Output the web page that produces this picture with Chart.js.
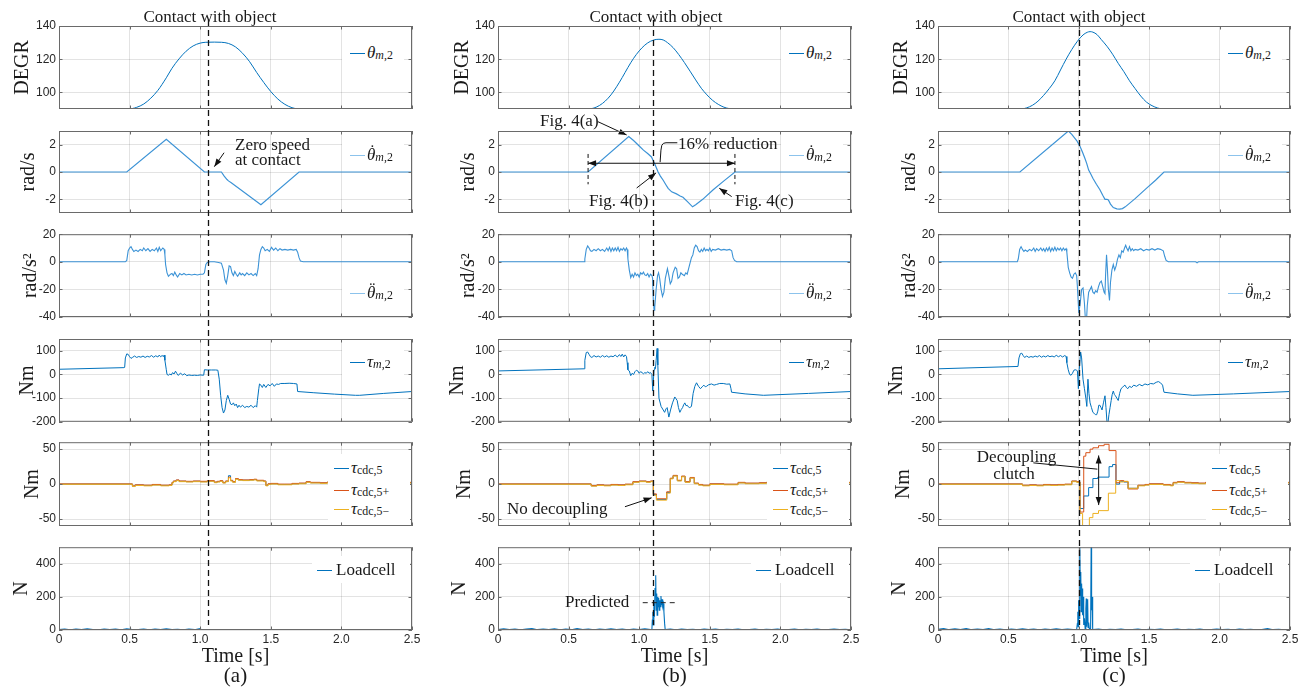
<!DOCTYPE html>
<html>
<head>
<meta charset="utf-8">
<title>Contact experiments</title>
<script src="https://cdn.jsdelivr.net/npm/chart.js@4.4.1/dist/chart.umd.min.js"></script>
<style>
html,body{margin:0;padding:0;background:#fff;}
#fig{position:relative;width:1304px;height:694px;overflow:hidden;background:#fff;}
#fig canvas{position:absolute;}
.t{position:absolute;white-space:nowrap;color:#1a1a1a;font-family:'Liberation Serif','Times New Roman',serif;font-size:17px;line-height:1;}
.t sub{font-size:0.7em;vertical-align:-0.15em;line-height:0;}
.acc{position:relative;display:inline-block;}
.dt{position:absolute;left:0.15em;top:-0.2em;font-style:normal;}
.lgbox{position:absolute;background:#fff;}
.lgline{position:absolute;height:0;border-top:1px solid;}
</style>
</head>
<body>
<div id="fig"></div>
<script>
// ---------------- data ----------------
const timeTicks = [0, 0.5, 1, 1.5, 2, 2.5];
const yTicksTheta = [100, 120, 140];
const yTicksVel = [-2, 0, 2];
const yTicksAcc = [-40, -20, 0, 20];
const yTicksTau = [-200, -100, 0, 100];
const yTicksCdc = [-50, 0, 50];
const yTicksLoad = [0, 200, 400];
const yRanges = [[90, 140], [-3, 3], [-40, 20], [-200, 150], [-60, 60], [0, 500]];
const yTitles = ['DEGR', 'rad/s', 'rad/s²', 'Nm', 'Nm', 'N'];
const contactTimes = [1.057, 1.1, 1.0];
const panelNames = ['(a)', '(b)', '(c)'];

// column (a)
const thetaA = [[0,90],[0.48,90],[0.52,90.3],[0.55,91],[0.6,93],[0.65,96.5],[0.7,101.2],[0.76,108.8],[0.8,114.5],[0.85,120.2],[0.9,124.8],[0.95,128],[1.0,129.7],[1.04,130.2],[1.1,130.3],[1.15,130.2],[1.2,129.5],[1.25,127.4],[1.3,123.6],[1.35,118.5],[1.4,112],[1.45,106],[1.5,100.5],[1.55,96],[1.6,92.8],[1.65,90.8],[1.7,90],[2.5,90]];
const dthetaA = [[0,0],[0.48,0],[0.76,2.4],[1.03,0],[1.15,0],[1.17,-0.3],[1.19,-0.55],[1.2,-0.65],[1.22,-0.78],[1.43,-2.4],[1.70,0],[2.5,0]];
const ddthetaA = [[0,0],[0.47,0],[0.48,1],[0.49,8],[0.5,10],[0.51,11],[0.52,9],[0.53,7.5],[0.545,8.5],[0.56,7.5],[0.575,9],[0.59,8],[0.6,10],[0.615,8],[0.63,9.5],[0.645,7.5],[0.66,9],[0.675,8],[0.69,10],[0.7,7.5],[0.71,10.5],[0.72,8],[0.735,10],[0.745,9],[0.75,5],[0.755,-2],[0.765,-8],[0.775,-10.5],[0.79,-9],[0.8,-8.5],[0.81,-10],[0.82,-7.5],[0.83,-9.5],[0.84,-11],[0.855,-8.5],[0.87,-9.5],[0.885,-8.5],[0.9,-9.5],[0.92,-9],[0.94,-9.5],[0.96,-9],[0.98,-9.5],[1.0,-9],[1.02,-9],[1.03,-8],[1.04,-2],[1.05,-0.5],[1.07,0],[1.1,0],[1.13,-0.5],[1.15,-1],[1.165,-6],[1.175,-13],[1.185,-15.5],[1.195,-10],[1.205,-3],[1.215,-3.5],[1.225,-8],[1.235,-10],[1.245,-7],[1.255,-9],[1.265,-10.5],[1.28,-8],[1.29,-9.5],[1.3,-8.5],[1.315,-10],[1.33,-8],[1.345,-9.5],[1.36,-8.5],[1.375,-10],[1.39,-8.5],[1.4,-10],[1.41,-5],[1.42,5],[1.43,9],[1.44,11],[1.45,10],[1.46,8],[1.475,9],[1.49,7.5],[1.505,10.5],[1.52,8.5],[1.535,10],[1.55,8],[1.565,9.5],[1.58,8.5],[1.6,9],[1.62,8.5],[1.64,9],[1.66,8.5],[1.68,9],[1.69,7],[1.7,3],[1.71,0.5],[1.73,0],[2.5,0]];
const tauA = [[0,22],[0.46,29],[0.465,30],[0.47,70],[0.48,87],[0.49,85],[0.5,75],[0.51,68],[0.52,72],[0.535,78],[0.55,72],[0.565,76],[0.58,73],[0.595,78],[0.61,72],[0.625,77],[0.64,74],[0.655,80],[0.67,73],[0.685,79],[0.7,74],[0.71,82],[0.72,75],[0.73,80],[0.74,76],[0.745,82],[0.75,60],[0.76,20],[0.765,0],[0.775,-3],[0.785,2],[0.795,-2],[0.805,8],[0.815,2],[0.825,14],[0.835,4],[0.845,-4],[0.86,6],[0.875,-2],[0.89,3],[0.905,-5],[0.92,-2],[0.94,-4],[0.96,-3],[0.98,-4],[1.0,-2],[1.02,-3],[1.025,-2],[1.03,20],[1.05,19],[1.08,19],[1.11,19],[1.125,18],[1.135,-20],[1.145,-90],[1.155,-140],[1.165,-163],[1.175,-150],[1.185,-110],[1.195,-88],[1.205,-105],[1.215,-125],[1.225,-128],[1.235,-120],[1.245,-132],[1.255,-125],[1.265,-140],[1.275,-130],[1.285,-138],[1.3,-130],[1.315,-140],[1.33,-135],[1.345,-138],[1.36,-130],[1.375,-140],[1.39,-132],[1.4,-138],[1.405,-110],[1.415,-60],[1.42,-40],[1.43,-45],[1.44,-55],[1.45,-42],[1.465,-55],[1.48,-42],[1.495,-48],[1.51,-38],[1.525,-50],[1.54,-40],[1.555,-42],[1.57,-38],[1.6,-38],[1.63,-37],[1.66,-38],[1.685,-40],[1.69,-72],[1.8,-77],[1.95,-83],[2.1,-88],[2.13,-88],[2.3,-80],[2.5,-72]];
const tcdcA = [[0,0],[0.52,-3],[0.54,-1.5],[0.6,-2],[0.66,-1],[0.72,-2],[0.78,-1.5],[0.8,2],[0.81,4],[0.83,5.5],[0.85,4],[0.9,3.5],[0.95,4],[1.0,3.5],[1.05,4.5],[1.1,2.5],[1.12,3.5],[1.14,4.5],[1.16,2],[1.18,4],[1.2,12],[1.215,5],[1.23,3],[1.25,7.5],[1.27,6],[1.3,5.5],[1.35,6],[1.38,6.5],[1.4,5],[1.45,4],[1.465,-2],[1.48,0],[1.5,0.5],[1.55,-0.5],[1.6,-0.5],[1.65,0.5],[1.7,1],[1.75,3],[1.78,2],[1.85,1.5],[1.9,2.5],[2.0,2],[2.5,2]];
const tcdcAp = [[0,0.3],[0.52,-2.5],[0.54,-1],[0.6,-1.5],[0.66,-0.5],[0.72,-1.5],[0.78,-1],[0.8,2.5],[0.81,4.5],[0.83,6],[0.85,4.5],[0.9,4],[0.95,4.5],[1.0,4],[1.05,5],[1.1,3],[1.12,4],[1.14,5],[1.16,2.5],[1.18,4.5],[1.2,10],[1.215,5.5],[1.23,3.5],[1.25,8],[1.27,6.5],[1.3,6],[1.35,6.5],[1.38,7],[1.4,5.5],[1.45,4.5],[1.465,-1.5],[1.48,0.5],[1.5,1],[1.55,0],[1.6,0],[1.65,1],[1.7,1.5],[1.75,3.5],[1.78,2.5],[1.85,2],[1.9,3],[2.0,2.5],[2.5,2.5]];
const tcdcAm = [[0,-0.3],[0.52,-3.5],[0.54,-2],[0.6,-2.5],[0.66,-1.5],[0.72,-2.5],[0.78,-2],[0.8,1.5],[0.81,3.5],[0.83,5],[0.85,3.5],[0.9,3],[0.95,3.5],[1.0,3],[1.05,4],[1.1,2],[1.12,3],[1.14,4],[1.16,1.5],[1.18,3.5],[1.2,9],[1.215,4.5],[1.23,2.5],[1.25,7],[1.27,5.5],[1.3,5],[1.35,5.5],[1.38,6],[1.4,4.5],[1.45,3.5],[1.465,-2.5],[1.48,-0.5],[1.5,0],[1.55,-1],[1.6,-1],[1.65,0],[1.7,0.5],[1.75,2.5],[1.78,1.5],[1.85,1],[1.9,2],[2.0,1.5],[2.5,1.5]];
const loadA = [[0,2],[0.04,6],[0.08,1],[0.12,5],[0.16,2],[0.2,7],[0.24,3],[0.28,1],[0.32,6],[0.36,2],[0.4,5],[0.44,1],[0.48,7],[0.52,3],[0.56,2],[0.6,6],[0.64,1],[0.68,5],[0.72,3],[0.76,7],[0.8,2],[0.84,4],[0.88,1],[0.92,6],[0.96,2],[1.0,8],[1.01,1]];

// column (b)
const thetaB = [[0,90],[0.64,90],[0.68,90.6],[0.72,92.2],[0.76,94.8],[0.8,98.5],[0.84,103.4],[0.88,109],[0.92,115],[0.96,120.5],[1.0,125],[1.04,128.5],[1.08,130.8],[1.12,131.9],[1.14,132],[1.17,131.6],[1.2,130],[1.24,127],[1.28,122.8],[1.32,118],[1.36,112.8],[1.4,107.5],[1.44,102.5],[1.48,98.5],[1.52,95.2],[1.56,92.8],[1.6,91.1],[1.64,90.2],[1.67,90],[2.5,90]];
const dthetaB = [[0,0],[0.638,0],[0.926,2.6],[0.96,2.3],[1.0,1.9],[1.03,1.6],[1.06,1.35],[1.087,1.1],[1.1,0.8],[1.11,0.6],[1.12,0.35],[1.134,0],[1.15,-0.3],[1.17,-0.6],[1.19,-0.95],[1.205,-1.2],[1.23,-1.45],[1.264,-1.6],[1.29,-1.75],[1.31,-1.85],[1.34,-2.15],[1.378,-2.55],[1.4,-2.4],[1.45,-2.0],[1.524,-1.3],[1.6,-0.65],[1.678,0],[2.5,0]];
const ddthetaB = [[0,0],[0.61,0],[0.615,2],[0.625,9],[0.635,11.5],[0.645,10],[0.655,8],[0.665,7.5],[0.68,9],[0.695,8],[0.71,9.5],[0.725,8],[0.74,9],[0.755,7.5],[0.77,10],[0.78,8],[0.79,10.5],[0.8,7.5],[0.81,10],[0.82,8],[0.83,10],[0.84,8],[0.85,10.5],[0.86,7.5],[0.87,9.5],[0.88,8.5],[0.89,10],[0.9,8],[0.91,10],[0.915,9],[0.92,2],[0.93,-6],[0.94,-11.5],[0.95,-9],[0.96,-11],[0.97,-8],[0.98,-10],[0.99,-9],[1.0,-11],[1.01,-8],[1.02,-9],[1.03,-7.5],[1.04,-9.5],[1.05,-10],[1.06,-8.5],[1.07,-11],[1.08,-9],[1.09,-10],[1.095,-12],[1.1,-28],[1.105,-35],[1.11,-33],[1.12,-20],[1.13,-10],[1.137,-8],[1.145,-12],[1.155,-20],[1.165,-25],[1.175,-22],[1.185,-12],[1.2,-5],[1.21,-10],[1.22,-16],[1.23,-14],[1.24,-8],[1.255,-4],[1.265,-5],[1.275,-12],[1.285,-11],[1.295,-8],[1.305,-9],[1.32,-10],[1.33,-8],[1.34,-9],[1.35,-5],[1.36,-1],[1.37,3],[1.38,5],[1.39,10],[1.4,12],[1.41,11],[1.42,8],[1.43,7],[1.44,9],[1.45,7.5],[1.46,10],[1.47,8],[1.48,9],[1.49,8],[1.5,10],[1.51,7.5],[1.52,9],[1.54,8.5],[1.56,9.5],[1.58,8.5],[1.6,9],[1.62,8.5],[1.64,9],[1.655,8],[1.665,3],[1.675,1],[1.69,0],[2.5,0]];
const tauB = [[0,15],[0.61,24],[0.615,60],[0.625,93],[0.635,95],[0.645,85],[0.655,75],[0.665,72],[0.68,80],[0.695,74],[0.71,78],[0.725,73],[0.74,80],[0.755,74],[0.77,79],[0.785,73],[0.8,78],[0.815,75],[0.83,82],[0.845,74],[0.86,84],[0.87,76],[0.88,86],[0.89,74],[0.9,83],[0.91,76],[0.915,50],[0.92,20],[0.93,15],[0.94,-5],[0.95,5],[0.96,0],[0.97,12],[0.98,18],[0.99,15],[1.0,5],[1.01,12],[1.02,8],[1.03,3],[1.04,8],[1.05,5],[1.06,12],[1.07,5],[1.08,8],[1.09,0],[1.096,-70],[1.1,-30],[1.105,20],[1.11,30],[1.115,25],[1.12,60],[1.127,110],[1.132,40],[1.14,-100],[1.155,-135],[1.17,-150],[1.18,-160],[1.19,-145],[1.198,-140],[1.21,-180],[1.222,-150],[1.236,-120],[1.252,-95],[1.26,-102],[1.269,-110],[1.278,-140],[1.288,-160],[1.298,-148],[1.307,-140],[1.315,-128],[1.323,-120],[1.332,-132],[1.34,-130],[1.35,-138],[1.358,-140],[1.37,-135],[1.382,-80],[1.394,-50],[1.406,-35],[1.42,-50],[1.434,-60],[1.446,-52],[1.458,-45],[1.468,-52],[1.477,-50],[1.49,-44],[1.512,-40],[1.53,-45],[1.548,-42],[1.57,-38],[1.595,-38],[1.62,-41],[1.642,-40],[1.65,-60],[1.654,-75],[1.75,-82],[1.88,-88],[2.2,-80],[2.5,-72]];
const tcdcB = [[0,0],[0.66,-2.5],[0.7,-1.5],[0.75,-2],[0.8,-1],[0.85,-1.5],[0.9,-0.5],[0.955,3],[1.0,4],[1.05,3],[1.08,4],[1.1,-15],[1.122,-22],[1.195,-12],[1.22,8],[1.24,12],[1.27,5],[1.3,11],[1.325,3],[1.36,9],[1.39,1],[1.42,-1],[1.45,-2],[1.5,0],[1.6,-0.5],[1.7,2],[1.75,1],[1.85,1.5],[1.9,2],[2.5,2]];
const tcdcBp = [[0,0.3],[0.66,-2],[0.7,-1],[0.75,-1.5],[0.8,-0.5],[0.85,-1],[0.9,0],[0.955,3.5],[1.0,4.5],[1.05,3.5],[1.08,4.5],[1.1,-14],[1.122,-21],[1.195,-11],[1.22,8.5],[1.24,12.5],[1.27,5.5],[1.3,11.5],[1.325,3.5],[1.36,9.5],[1.39,1.5],[1.42,-0.5],[1.45,-1.5],[1.5,0.5],[1.6,0],[1.7,2.5],[1.75,1.5],[1.85,2],[1.9,2.5],[2.5,2.5]];
const tcdcBm = [[0,-0.3],[0.66,-3],[0.7,-2],[0.75,-2.5],[0.8,-1.5],[0.85,-2],[0.9,-1],[0.955,2.5],[1.0,3.5],[1.05,2.5],[1.08,3.5],[1.1,-16],[1.122,-23],[1.195,-13],[1.22,7.5],[1.24,11.5],[1.27,4.5],[1.3,10.5],[1.325,2.5],[1.36,8.5],[1.39,0.5],[1.42,-1.5],[1.45,-2.5],[1.5,-0.5],[1.6,-1],[1.7,1.5],[1.75,0.5],[1.85,1],[1.9,1.5],[2.5,1.5]];
const loadBpre = [[0,3],[0.04,7],[0.08,2],[0.12,6],[0.16,1],[0.2,5],[0.24,8],[0.28,2],[0.32,6],[0.36,3],[0.4,7],[0.44,1],[0.48,5],[0.52,2],[0.56,8],[0.6,3],[0.64,6],[0.68,1],[0.72,5],[0.76,2],[0.8,7],[0.84,3],[0.88,6],[0.92,1],[0.96,5],[1.0,2],[1.04,7],[1.08,3],[1.09,4]];
const loadBspike = [[1.093,60],[1.097,110],[1.1,30],[1.104,160],[1.108,80],[1.112,250],[1.117,330],[1.12,120],[1.124,220],[1.127,90],[1.131,200],[1.134,140],[1.138,195],[1.142,120],[1.146,180],[1.15,140],[1.154,205],[1.158,150],[1.162,185],[1.166,145],[1.17,160],[1.175,110],[1.18,40],[1.184,3]];
const loadBpost = [[1.22,5],[1.26,1],[1.3,6],[1.34,2],[1.38,4],[1.42,1],[1.46,6],[1.5,2],[1.54,5],[1.58,1],[1.62,4],[1.66,2],[1.7,6],[1.74,1],[1.78,3],[1.82,5],[1.86,1],[1.9,4],[1.94,2],[1.98,6],[2.02,1],[2.06,3],[2.1,5],[2.14,1],[2.18,4],[2.22,2],[2.26,5],[2.3,1],[2.34,3],[2.38,6],[2.42,2],[2.46,4],[2.5,1]];
const predictedB = [[1.025,165],[1.255,165]];

// column (c)
const thetaC = [[0,90],[0.59,90],[0.63,90.7],[0.67,92.2],[0.71,94.7],[0.75,98.2],[0.79,102.3],[0.83,107],[0.87,113.5],[0.91,120],[0.95,125.8],[0.99,130.8],[1.03,134.6],[1.06,136.2],[1.08,136.6],[1.1,136.3],[1.13,134.8],[1.16,131.8],[1.2,127.8],[1.24,123],[1.28,117.5],[1.32,112.5],[1.36,107],[1.4,102.3],[1.44,97.8],[1.48,94.2],[1.52,92],[1.56,90.6],[1.6,90],[2.5,90]];
const dthetaC = [[0,0],[0.582,0],[0.926,3.0],[0.95,2.75],[0.985,2.3],[1.01,1.85],[1.03,1.35],[1.045,0.95],[1.056,0.63],[1.07,0.14],[1.085,-0.15],[1.1,-0.46],[1.125,-0.9],[1.15,-1.3],[1.17,-1.7],[1.186,-2.0],[1.2,-2.0],[1.21,-2.05],[1.225,-2.35],[1.245,-2.6],[1.27,-2.7],[1.29,-2.72],[1.31,-2.68],[1.33,-2.55],[1.4,-1.95],[1.48,-1.2],[1.545,-0.6],[1.605,0],[2.5,0]];
const ddthetaC = [[0,0],[0.563,0],[0.57,2],[0.58,9],[0.59,11],[0.6,9],[0.61,7.5],[0.62,8.5],[0.635,7.5],[0.65,9],[0.665,8],[0.68,10],[0.69,7.5],[0.7,9.5],[0.715,8],[0.73,10],[0.74,8],[0.75,9.5],[0.76,7.5],[0.77,10],[0.78,8],[0.79,10.5],[0.8,7.5],[0.81,10],[0.82,8],[0.83,10.5],[0.84,8],[0.85,10],[0.86,8.5],[0.87,10],[0.88,8],[0.89,10],[0.9,8.5],[0.91,9.5],[0.915,7],[0.925,-4],[0.935,-8],[0.945,-11],[0.955,-12],[0.965,-9],[0.975,-8],[0.985,-10],[0.99,-18],[1.0,-37],[1.01,-30],[1.02,-20],[1.03,-19],[1.04,-30],[1.047,-42],[1.055,-42],[1.06,-32],[1.07,-22],[1.08,-20],[1.09,-18],[1.1,-22],[1.11,-23],[1.12,-21],[1.13,-22],[1.14,-18],[1.15,-15],[1.16,-14],[1.17,-18],[1.18,-22],[1.186,-23],[1.19,-10],[1.197,5],[1.203,-5],[1.21,-20],[1.218,-28],[1.225,-15],[1.235,-6],[1.245,-2],[1.255,-6],[1.265,-3],[1.275,2],[1.285,5],[1.295,3],[1.305,8],[1.315,7],[1.325,10],[1.333,12],[1.34,10],[1.35,8],[1.36,11],[1.37,8],[1.38,9.5],[1.39,8],[1.4,9],[1.42,8.5],[1.44,9.5],[1.46,8],[1.48,9],[1.5,8.5],[1.52,9.5],[1.54,8.5],[1.56,9.5],[1.58,9],[1.6,8],[1.61,4],[1.62,1],[1.636,0],[1.83,0],[1.84,-0.8],[1.85,0],[2.5,0]];
const tauC = [[0,24],[0.568,34],[0.575,70],[0.585,88],[0.595,90],[0.605,80],[0.615,72],[0.63,78],[0.645,72],[0.66,76],[0.675,73],[0.69,78],[0.705,74],[0.72,80],[0.735,73],[0.75,78],[0.765,74],[0.78,80],[0.795,75],[0.81,78],[0.825,74],[0.84,81],[0.855,75],[0.87,80],[0.885,74],[0.9,80],[0.91,76],[0.915,50],[0.925,20],[0.935,0],[0.945,-3],[0.955,5],[0.965,18],[0.975,20],[0.985,18],[0.99,15],[0.997,-60],[1.003,20],[1.013,95],[1.02,70],[1.03,-20],[1.04,-60],[1.05,-100],[1.057,-135],[1.065,-20],[1.072,-80],[1.08,-120],[1.09,-140],[1.1,-160],[1.11,-165],[1.12,-170],[1.127,-170],[1.135,-155],[1.142,-130],[1.15,-130],[1.158,-140],[1.165,-150],[1.175,-120],[1.186,-90],[1.193,-140],[1.2,-200],[1.207,-205],[1.214,-170],[1.222,-140],[1.23,-110],[1.237,-85],[1.245,-70],[1.253,-85],[1.26,-90],[1.27,-100],[1.28,-110],[1.29,-80],[1.3,-60],[1.31,-55],[1.32,-48],[1.328,-45],[1.338,-55],[1.348,-60],[1.36,-50],[1.375,-55],[1.39,-45],[1.41,-50],[1.43,-42],[1.45,-48],[1.47,-40],[1.49,-44],[1.51,-38],[1.53,-40],[1.55,-33],[1.565,-30],[1.58,-35],[1.595,-45],[1.605,-75],[1.7,-82],[1.81,-88],[2.1,-82],[2.5,-72]];
const tcdcC = [[0,0],[0.6,-2],[0.65,-1.5],[0.7,-2],[0.75,-1],[0.8,-1.5],[0.85,-1],[0.9,-0.5],[0.95,4],[0.985,3],[1.008,-35],[1.035,-17],[1.07,-5],[1.1,8],[1.135,10],[1.215,25],[1.24,28],[1.264,0],[1.29,4],[1.32,3],[1.35,-6],[1.42,-2],[1.47,-1],[1.5,0],[1.6,-1],[1.65,-2],[1.67,2],[1.7,3],[1.75,2],[1.8,1.5],[1.85,1],[1.9,2],[2.5,2]];
const tcdcCp = [[0,0.3],[0.6,-1.5],[0.65,-1],[0.7,-1.5],[0.75,-0.5],[0.8,-1],[0.85,-0.5],[0.9,0],[0.95,4.5],[0.985,3.5],[1.008,-40],[1.035,40],[1.05,45],[1.08,50],[1.1,52],[1.14,55],[1.18,57],[1.215,48],[1.264,2],[1.29,5],[1.32,3.5],[1.35,-7],[1.42,-1.5],[1.47,-0.5],[1.5,0.5],[1.6,-0.5],[1.65,-1.5],[1.67,2.5],[1.7,3.5],[1.75,2.5],[1.8,2],[1.85,1.5],[1.9,2.5],[2.5,2.5]];
const tcdcCm = [[0,-0.3],[0.6,-2.5],[0.65,-2],[0.7,-2.5],[0.75,-1.5],[0.8,-2],[0.85,-1.5],[0.9,-1],[0.95,3.5],[0.985,2.5],[1.008,-42],[1.027,-66],[1.075,-48],[1.1,-42],[1.14,-38],[1.21,-13],[1.262,5],[1.293,3],[1.32,4],[1.35,-6],[1.42,-2.5],[1.47,-1.5],[1.5,-0.5],[1.6,-1.5],[1.65,-2.5],[1.67,1.5],[1.7,2.5],[1.75,1.5],[1.8,1],[1.85,0.5],[1.9,1.5],[2.5,1.5]];
const loadCpre = [[0,4],[0.04,8],[0.08,2],[0.12,7],[0.16,3],[0.2,9],[0.24,2],[0.28,6],[0.32,3],[0.36,8],[0.4,2],[0.44,6],[0.48,1],[0.52,5],[0.56,3],[0.6,7],[0.64,2],[0.68,6],[0.72,1],[0.76,5],[0.8,2],[0.84,7],[0.88,3],[0.92,6],[0.96,2],[0.985,5]];
const loadCspike = [[0.99,40],[0.993,110],[0.996,20],[0.999,180],[1.002,70],[1.005,520],[1.008,560],[1.011,210],[1.014,350],[1.017,110],[1.02,280],[1.023,160],[1.026,250],[1.029,90],[1.032,200],[1.035,30],[1.04,70],[1.045,10],[1.05,130],[1.053,190],[1.056,20],[1.06,90],[1.063,185],[1.066,15],[1.07,45],[1.075,5],[1.084,10],[1.088,560],[1.091,120],[1.094,200],[1.097,25],[1.1,3]];
const loadCpost = [[1.14,5],[1.18,1],[1.22,4],[1.26,2],[1.3,6],[1.34,1],[1.38,3],[1.42,5],[1.46,1],[1.5,4],[1.54,2],[1.58,6],[1.62,1],[1.66,3],[1.7,5],[1.74,1],[1.78,4],[1.82,2],[1.86,5],[1.9,1],[1.94,3],[1.98,6],[2.02,2],[2.06,4],[2.1,1],[2.14,5],[2.18,2],[2.22,4],[2.26,1],[2.3,3],[2.34,8],[2.38,2],[2.42,4],[2.46,1],[2.5,3]];

// annotation geometry in data units [time, value]
const annVelA = [{k:'arrow', p:[[1.169,1.41],[1.10,0.39]]}];
const annVelB = [
  {k:'arrow2', p:[[0.638,0.64],[1.678,0.64]]},
  {k:'dash', p:[[0.638,1.32],[0.638,-0.9]]},
  {k:'dash', p:[[1.678,1.32],[1.678,-0.9]]},
  {k:'arrow', p:[[0.708,3.68],[0.911,2.71]]},
  {k:'line', p:[[1.27,2.14],[1.19,2.14],[1.172,2.1],[1.16,1.95],[1.154,1.6],[1.148,0.72]]},
  {k:'arrow', p:[[0.982,-1.17],[1.119,-0.07]]},
  {k:'arrow', p:[[1.655,-1.8],[1.567,-1.19]]}
];
const annCdcB = [{k:'arrow', p:[[0.899,-32.4],[1.088,-19.6]]}];
const annCdcC = [{k:'line', p:[[0.677,30.4],[1.132,21.4]]}, {k:'arrow2', p:[[1.141,41],[1.141,-30]]}];

// ---------------- layout / style ----------------
const BLUE = '#0072BD', LBLUE = '#3c93d6', ORANGE = '#D95319', YELLOW = '#EDB120';
const GRID = 'rgba(38,38,38,0.13)', BOX = '#6a6a6a';
const SERIF = "'Liberation Serif','Times New Roman',serif";
const tickFont = {family: "'Liberation Sans',Arial,sans-serif", size: 12};
const colLeft = [59, 498, 938], plotW = [353, 353, 352];
const rowTop = [26, 131, 234, 339, 442, 547], rowBot = [109, 213, 317, 422, 526, 630];
const canTop = [0, 120, 224, 328, 432, 537], canBot = [120, 224, 328, 432, 537, 694];
const Y_W = 58, RPAD = 12, XH = 40;
const titlePad = [
  [9.3, 15.3, 17.6, 15, 20, 8.3],
  [11, 17, 17, 6, 12.6, 7.6],
  [9.6, 17.3, 17.3, 4.6, 11.3, 8]
];
const rowTicks = [yTicksTheta, yTicksVel, yTicksAcc, yTicksTau, yTicksCdc, yTicksLoad];

function head(ctx, x1, y1, x2, y2) {
  const dx = x2 - x1, dy = y2 - y1, L = Math.hypot(dx, dy) || 1;
  const ux = dx / L, uy = dy / L, len = 8, hw = 3;
  ctx.beginPath();
  ctx.moveTo(x2, y2);
  ctx.lineTo(x2 - ux * len - uy * hw, y2 - uy * len + ux * hw);
  ctx.lineTo(x2 - ux * len + uy * hw, y2 - uy * len - ux * hw);
  ctx.closePath(); ctx.fill();
}

const figPlugin = {
  id: 'fig',
  afterDraw(chart, args, o) {
    const ctx = chart.ctx, a = chart.chartArea, xs = chart.scales.x, ys = chart.scales.y;
    ctx.save();
    ctx.strokeStyle = '#111'; ctx.fillStyle = '#111'; ctx.lineWidth = 1;
    (o.annots || []).forEach(an => {
      const P = an.p.map(q => [xs.getPixelForValue(q[0]), ys.getPixelForValue(q[1])]);
      ctx.setLineDash(an.k === 'dash' ? [4, 3] : []);
      ctx.beginPath(); ctx.moveTo(P[0][0], P[0][1]);
      for (let i = 1; i < P.length; i++) ctx.lineTo(P[i][0], P[i][1]);
      ctx.stroke();
      ctx.setLineDash([]);
      if (an.k === 'arrow' || an.k === 'arrow2') head(ctx, P[0][0], P[0][1], P[1][0], P[1][1]);
      if (an.k === 'arrow2') head(ctx, P[1][0], P[1][1], P[0][0], P[0][1]);
    });
    ctx.setLineDash([]);
    ctx.strokeStyle = BOX; ctx.lineWidth = 1;
    ctx.strokeRect(a.left + 0.5, a.top + 0.5, a.right - a.left - 1, a.bottom - a.top - 1);
    ctx.beginPath();
    timeTicks.forEach(v => {
      const px = Math.round(xs.getPixelForValue(v)) + 0.5;
      ctx.moveTo(px, a.bottom); ctx.lineTo(px, a.bottom - 3.5);
      ctx.moveTo(px, a.top); ctx.lineTo(px, a.top + 3.5);
    });
    rowTicks[o.row].forEach(v => {
      const py = Math.round(ys.getPixelForValue(v)) + 0.5;
      ctx.moveTo(a.left, py); ctx.lineTo(a.left + 3.5, py);
      ctx.moveTo(a.right, py); ctx.lineTo(a.right - 3.5, py);
    });
    ctx.stroke();
    const cx = Math.round(xs.getPixelForValue(o.contact)) + 0.5;
    const y0 = o.row === 0 ? 20 : 0, y1 = o.row === 5 ? a.bottom - 5 : chart.height;
    ctx.strokeStyle = '#111'; ctx.lineWidth = 1.3;
    ctx.setLineDash([6, 4]); ctx.lineDashOffset = canTop[o.row] + y0;
    ctx.beginPath(); ctx.moveTo(cx, y0); ctx.lineTo(cx, y1); ctx.stroke();
    ctx.restore();
  }
};

const fig = document.getElementById('fig');

function ds(points, color, extra) {
  return Object.assign({
    data: points.map(p => ({x: p[0], y: p[1]})),
    borderColor: color, backgroundColor: color, borderWidth: 1,
    pointRadius: 0, fill: false, tension: 0
  }, extra || {});
}

function makeChart(c, r, datasets, annots) {
  const cv = document.createElement('canvas');
  const w = Y_W + plotW[c] + RPAD, h = canBot[r] - canTop[r];
  cv.width = w; cv.height = h;
  cv.style.left = (colLeft[c] - Y_W) + 'px'; cv.style.top = canTop[r] + 'px';
  cv.style.width = w + 'px'; cv.style.height = h + 'px';
  fig.appendChild(cv);
  const bottomRow = r === 5;
  const yt = rowTicks[r];
  new Chart(cv, {
    type: 'line',
    data: {datasets},
    plugins: [figPlugin],
    options: {
      responsive: false, animation: false, devicePixelRatio: 1, events: [],
      layout: {padding: {left: 0, right: RPAD, top: rowTop[r] - canTop[r], bottom: canBot[r] - rowBot[r] - (bottomRow ? XH : 0)}},
      plugins: {legend: {display: false}, tooltip: {enabled: false}, fig: {contact: contactTimes[c], row: r, annots: annots || []}},
      scales: {
        x: {
          type: 'linear', min: 0, max: 2.5,
          afterBuildTicks: s => { s.ticks = timeTicks.map(v => ({value: v})); },
          afterFit: s => { s.height = bottomRow ? XH : 0; },
          ticks: {display: bottomRow, font: tickFont, color: '#262626', padding: 2, maxRotation: 0, autoSkip: false},
          grid: {color: GRID, drawTicks: false},
          border: {display: false},
          title: {display: bottomRow, text: 'Time [s]', font: {family: SERIF, size: 20}, color: '#1a1a1a', padding: {top: 0, bottom: 1}}
        },
        y: {
          type: 'linear', min: yRanges[r][0], max: yRanges[r][1],
          afterBuildTicks: s => { s.ticks = yt.map(v => ({value: v})); },
          afterFit: s => { s.width = Y_W; },
          ticks: {font: tickFont, color: '#262626', padding: 3, autoSkip: false},
          grid: {color: GRID, drawTicks: false},
          border: {display: false},
          title: {display: true, text: yTitles[r], font: {family: SERIF, size: 20}, color: '#1a1a1a', padding: {top: titlePad[c][r], bottom: 0}}
        }
      }
    }
  });
}

const columns = [
  {theta: thetaA, vel: dthetaA, acc: ddthetaA, tau: tauA, cdc: tcdcA, cdcP: tcdcAp, cdcM: tcdcAm, load: loadA, annVel: annVelA, annCdc: []},
  {theta: thetaB, vel: dthetaB, acc: ddthetaB, tau: tauB, cdc: tcdcB, cdcP: tcdcBp, cdcM: tcdcBm, load: loadBpre.concat(loadBspike, loadBpost), pred: predictedB, annVel: annVelB, annCdc: annCdcB},
  {theta: thetaC, vel: dthetaC, acc: ddthetaC, tau: tauC, cdc: tcdcC, cdcP: tcdcCp, cdcM: tcdcCm, load: loadCpre.concat(loadCspike, loadCpost), annVel: [], annCdc: annCdcC}
];

columns.forEach((col, c) => {
  makeChart(c, 0, [ds(col.theta, BLUE, {cubicInterpolationMode: 'monotone'})]);
  makeChart(c, 1, [ds(col.vel, LBLUE, {borderWidth: 1.2})], col.annVel);
  makeChart(c, 2, [ds(col.acc, LBLUE, {borderWidth: 1.1})]);
  makeChart(c, 3, [ds(col.tau, BLUE)]);
  makeChart(c, 4, [
    ds(col.cdcM, YELLOW, {stepped: true, order: 0}),
    ds(col.cdcP, ORANGE, {stepped: true, order: 1}),
    ds(col.cdc, BLUE, {stepped: true, order: 2})
  ], col.annCdc);
  const loadSets = [ds(col.load, BLUE, {borderWidth: 1.1, order: 1})];
  if (col.pred) loadSets.push(ds(col.pred, '#222', {borderDash: [5, 4], order: 0}));
  makeChart(c, 5, loadSets);
});

// ---------------- text overlays ----------------
function addText(html, x, y, align, size) {
  const d = document.createElement('div');
  d.className = 't';
  d.innerHTML = html;
  d.style.left = x + 'px'; d.style.top = y + 'px';
  if (size) d.style.fontSize = size + 'px';
  d.style.transform = align === 'c' ? 'translate(-50%,-50%)' : 'translate(0,-50%)';
  fig.appendChild(d);
  return d;
}

const legendSpec = [
  {box: [-70, 12, -8, 42], items: [{dy: 27, lx: -62, tx: -45, color: BLUE, html: '<i>θ</i><sub><i>m</i>,2</sub>'}]},
  {box: [-70, 8, -8, 38], items: [{dy: 24, lx: -62, tx: -45, color: '#8cc3ec', html: '<span class="acc"><i>θ</i><span class="dt">˙</span></span><sub><i>m</i>,2</sub>'}]},
  {box: [-70, 43, -8, 73], items: [{dy: 59, lx: -62, tx: -45, color: '#8cc3ec', html: '<span class="acc"><i>θ</i><span class="dt">¨</span></span><sub><i>m</i>,2</sub>'}]},
  {box: [-70, 9, -8, 37], items: [{dy: 23, lx: -62, tx: -45, color: BLUE, html: '<i>τ</i><sub><i>m</i>,2</sub>'}]},
  {box: [-84, 12, -2, 80], items: [
    {dy: 26, lx: -78, tx: -61, color: BLUE, html: '<i>τ</i><sub>cdc,5</sub>'},
    {dy: 48, lx: -78, tx: -61, color: ORANGE, html: '<i>τ</i><sub>cdc,5+</sub>'},
    {dy: 67, lx: -78, tx: -61, color: YELLOW, html: '<i>τ</i><sub>cdc,5\u2212</sub>'}]},
  {box: [-100, 9, -2, 36], items: [{dy: 23, lx: -95, tx: -76, color: BLUE, html: 'Loadcell'}]}
];

for (let c = 0; c < 3; c++) {
  const R = colLeft[c] + plotW[c];
  legendSpec.forEach((spec, r) => {
    const T = rowTop[r];
    const b = document.createElement('div');
    b.className = 'lgbox';
    b.style.left = (R + spec.box[0]) + 'px'; b.style.top = (T + spec.box[1]) + 'px';
    b.style.width = (spec.box[2] - spec.box[0]) + 'px'; b.style.height = (spec.box[3] - spec.box[1]) + 'px';
    fig.appendChild(b);
    spec.items.forEach(it => {
      const ln = document.createElement('div');
      ln.className = 'lgline';
      ln.style.left = (R + it.lx) + 'px'; ln.style.top = (T + it.dy) + 'px';
      ln.style.width = '15px'; ln.style.borderColor = it.color;
      fig.appendChild(ln);
      addText(it.html, R + it.tx, T + it.dy - 1.5, 'l', 17);
    });
  });
  addText('Contact with object', [210, 656, 1079][c], 15.5, 'c', 17);
  addText(panelNames[c], colLeft[c] + plotW[c] / 2, 675, 'c', 21);
}

addText('Zero speed', 235, 143.5, 'l');
addText('at contact', 235, 159, 'l');
addText('Fig. 4(a)', 540, 120, 'l');
addText('16% reduction', 678, 143, 'l');
addText('Fig. 4(b)', 589, 200, 'l');
addText('Fig. 4(c)', 735, 200, 'l');
addText('No decoupling', 507, 507.5, 'l');
addText('Predicted', 565, 601, 'l');
addText('Decoupling', 1016.5, 456, 'c');
addText('clutch', 1014, 472.7, 'c');
</script>
</body>
</html>
